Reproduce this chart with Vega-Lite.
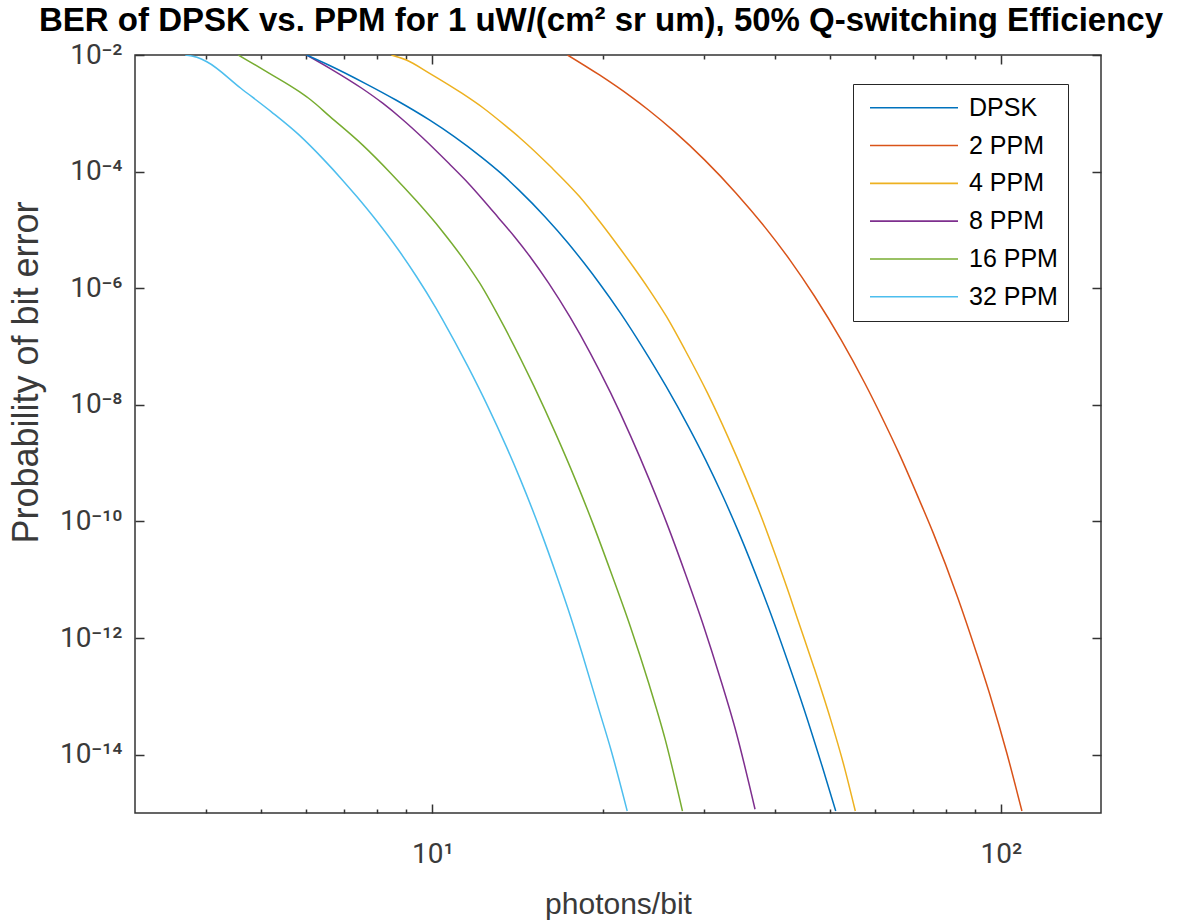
{
  "$schema": "https://vega.github.io/schema/vega-lite/v6.json",
  "width": 966,
  "height": 758,
  "autosize": {"type": "none"},
  "padding": {"left": 135, "top": 55, "right": 98, "bottom": 109},
  "background": "white",
  "config": {
    "view": {"stroke": "#333333", "strokeWidth": 1.5},
    "font": "Liberation Sans"
  },
  "title": {
    "text": "BER of DPSK vs. PPM for 1 uW/(cm² sr um), 50% Q-switching Efficiency",
    "font": "Liberation Sans",
    "fontSize": 33,
    "fontWeight": "bold",
    "color": "#000000",
    "anchor": "middle",
    "dx": -17,
    "offset": 3
  },
  "data": {
    "values": [
      {"s": "32 PPM", "x": 3.677, "y": 1e-2},
      {"s": "32 PPM", "x": 3.855, "y": 9.14e-3},
      {"s": "32 PPM", "x": 4.013, "y": 7.67e-3},
      {"s": "32 PPM", "x": 4.605, "y": 2.69e-3},
      {"s": "32 PPM", "x": 5.206, "y": 1.07e-3},
      {"s": "32 PPM", "x": 5.829, "y": 4.26e-4},
      {"s": "32 PPM", "x": 6.449, "y": 1.59e-4},
      {"s": "32 PPM", "x": 6.947, "y": 7.21e-5},
      {"s": "32 PPM", "x": 7.365, "y": 3.73e-5},
      {"s": "32 PPM", "x": 7.955, "y": 1.49e-5},
      {"s": "32 PPM", "x": 8.715, "y": 4.56e-6},
      {"s": "32 PPM", "x": 9.378, "y": 1.59e-6},
      {"s": "32 PPM", "x": 10.15, "y": 4.57e-7},
      {"s": "32 PPM", "x": 10.43, "y": 2.88e-7},
      {"s": "32 PPM", "x": 11.55, "y": 4.56e-8},
      {"s": "32 PPM", "x": 12.52, "y": 9.42e-9},
      {"s": "32 PPM", "x": 13.49, "y": 1.94e-9},
      {"s": "32 PPM", "x": 14.29, "y": 5.22e-10},
      {"s": "32 PPM", "x": 15.55, "y": 6.37e-11},
      {"s": "32 PPM", "x": 16.56, "y": 1.15e-11},
      {"s": "32 PPM", "x": 17.34, "y": 3.09e-12},
      {"s": "32 PPM", "x": 18.33, "y": 5.60e-13},
      {"s": "32 PPM", "x": 19.63, "y": 5.98e-14},
      {"s": "32 PPM", "x": 20.61, "y": 1.23e-14},
      {"s": "32 PPM", "x": 22.02, "y": 1.08e-15},

      {"s": "16 PPM", "x": 4.559, "y": 1e-2},
      {"s": "16 PPM", "x": 4.720, "y": 8.20e-3},
      {"s": "16 PPM", "x": 5.170, "y": 4.85e-3},
      {"s": "16 PPM", "x": 5.836, "y": 2.35e-3},
      {"s": "16 PPM", "x": 6.116, "y": 1.69e-3},
      {"s": "16 PPM", "x": 6.609, "y": 8.77e-4},
      {"s": "16 PPM", "x": 7.536, "y": 2.87e-4},
      {"s": "16 PPM", "x": 8.450, "y": 9.40e-5},
      {"s": "16 PPM", "x": 9.401, "y": 3.06e-5},
      {"s": "16 PPM", "x": 10.37, "y": 1.00e-5},
      {"s": "16 PPM", "x": 11.37, "y": 3.07e-6},
      {"s": "16 PPM", "x": 12.12, "y": 1.22e-6},
      {"s": "16 PPM", "x": 13.37, "y": 2.21e-7},
      {"s": "16 PPM", "x": 15.10, "y": 2.07e-8},
      {"s": "16 PPM", "x": 16.46, "y": 3.30e-9},
      {"s": "16 PPM", "x": 17.85, "y": 5.22e-10},
      {"s": "16 PPM", "x": 19.14, "y": 9.46e-11},
      {"s": "16 PPM", "x": 20.63, "y": 1.32e-11},
      {"s": "16 PPM", "x": 22.29, "y": 1.60e-12},
      {"s": "16 PPM", "x": 24.01, "y": 1.71e-13},
      {"s": "16 PPM", "x": 25.68, "y": 1.83e-14},
      {"s": "16 PPM", "x": 27.54, "y": 1.08e-15},

      {"s": "8 PPM", "x": 6.011, "y": 1e-2},
      {"s": "8 PPM", "x": 6.603, "y": 5.92e-3},
      {"s": "8 PPM", "x": 7.516, "y": 2.69e-3},
      {"s": "8 PPM", "x": 8.180, "y": 1.49e-3},
      {"s": "8 PPM", "x": 8.884, "y": 7.69e-4},
      {"s": "8 PPM", "x": 9.636, "y": 3.74e-4},
      {"s": "8 PPM", "x": 10.69, "y": 1.39e-4},
      {"s": "8 PPM", "x": 11.57, "y": 6.34e-5},
      {"s": "8 PPM", "x": 12.29, "y": 3.27e-5},
      {"s": "8 PPM", "x": 13.09, "y": 1.59e-5},
      {"s": "8 PPM", "x": 13.94, "y": 7.71e-6},
      {"s": "8 PPM", "x": 14.85, "y": 3.50e-6},
      {"s": "8 PPM", "x": 16.02, "y": 1.22e-6},
      {"s": "8 PPM", "x": 17.44, "y": 3.28e-7},
      {"s": "8 PPM", "x": 18.96, "y": 7.74e-8},
      {"s": "8 PPM", "x": 20.59, "y": 1.60e-8},
      {"s": "8 PPM", "x": 22.34, "y": 2.88e-9},
      {"s": "8 PPM", "x": 24.08, "y": 5.22e-10},
      {"s": "8 PPM", "x": 25.83, "y": 9.46e-11},
      {"s": "8 PPM", "x": 27.97, "y": 1.15e-11},
      {"s": "8 PPM", "x": 30.01, "y": 1.60e-12},
      {"s": "8 PPM", "x": 32.01, "y": 2.22e-13},
      {"s": "8 PPM", "x": 34.25, "y": 2.38e-14},
      {"s": "8 PPM", "x": 36.95, "y": 1.16e-15},

      {"s": "DPSK", "x": 6.011, "y": 1e-2},
      {"s": "DPSK", "x": 6.570, "y": 6.75e-3},
      {"s": "DPSK", "x": 7.616, "y": 3.27e-3},
      {"s": "DPSK", "x": 8.630, "y": 1.69e-3},
      {"s": "DPSK", "x": 9.883, "y": 7.69e-4},
      {"s": "DPSK", "x": 10.93, "y": 3.98e-4},
      {"s": "DPSK", "x": 12.17, "y": 1.81e-4},
      {"s": "DPSK", "x": 13.20, "y": 9.40e-5},
      {"s": "DPSK", "x": 14.19, "y": 4.86e-5},
      {"s": "DPSK", "x": 15.78, "y": 1.69e-5},
      {"s": "DPSK", "x": 17.34, "y": 5.93e-6},
      {"s": "DPSK", "x": 18.49, "y": 2.70e-6},
      {"s": "DPSK", "x": 19.67, "y": 1.22e-6},
      {"s": "DPSK", "x": 21.43, "y": 3.75e-7},
      {"s": "DPSK", "x": 23.39, "y": 1.00e-7},
      {"s": "DPSK", "x": 25.78, "y": 2.07e-8},
      {"s": "DPSK", "x": 28.20, "y": 4.28e-9},
      {"s": "DPSK", "x": 30.23, "y": 1.15e-9},
      {"s": "DPSK", "x": 32.44, "y": 2.70e-10},
      {"s": "DPSK", "x": 34.62, "y": 6.37e-11},
      {"s": "DPSK", "x": 38.14, "y": 5.97e-12},
      {"s": "DPSK", "x": 39.13, "y": 3.09e-12},
      {"s": "DPSK", "x": 42.07, "y": 4.30e-13},
      {"s": "DPSK", "x": 45.08, "y": 5.98e-14},
      {"s": "DPSK", "x": 48.48, "y": 6.38e-15},
      {"s": "DPSK", "x": 51.23, "y": 1.08e-15},

      {"s": "4 PPM", "x": 8.474, "y": 1e-2},
      {"s": "4 PPM", "x": 9.003, "y": 8.20e-3},
      {"s": "4 PPM", "x": 9.892, "y": 4.85e-3},
      {"s": "4 PPM", "x": 11.27, "y": 2.21e-3},
      {"s": "4 PPM", "x": 12.31, "y": 1.22e-3},
      {"s": "4 PPM", "x": 13.51, "y": 5.90e-4},
      {"s": "4 PPM", "x": 14.28, "y": 3.74e-4},
      {"s": "4 PPM", "x": 16.14, "y": 1.22e-4},
      {"s": "4 PPM", "x": 18.15, "y": 3.73e-5},
      {"s": "4 PPM", "x": 19.79, "y": 1.31e-5},
      {"s": "4 PPM", "x": 21.26, "y": 5.19e-6},
      {"s": "4 PPM", "x": 22.55, "y": 2.36e-6},
      {"s": "4 PPM", "x": 24.08, "y": 9.40e-7},
      {"s": "4 PPM", "x": 25.81, "y": 3.28e-7},
      {"s": "4 PPM", "x": 27.82, "y": 8.81e-8},
      {"s": "4 PPM", "x": 30.47, "y": 1.60e-8},
      {"s": "4 PPM", "x": 33.08, "y": 2.88e-9},
      {"s": "4 PPM", "x": 35.67, "y": 5.22e-10},
      {"s": "4 PPM", "x": 38.06, "y": 1.08e-10},
      {"s": "4 PPM", "x": 40.39, "y": 2.22e-11},
      {"s": "4 PPM", "x": 42.56, "y": 5.22e-12},
      {"s": "4 PPM", "x": 43.92, "y": 2.08e-12},
      {"s": "4 PPM", "x": 46.83, "y": 3.30e-13},
      {"s": "4 PPM", "x": 50.18, "y": 4.03e-14},
      {"s": "4 PPM", "x": 52.99, "y": 6.38e-15},
      {"s": "4 PPM", "x": 55.46, "y": 1.08e-15},

      {"s": "2 PPM", "x": 17.29, "y": 1e-2},
      {"s": "2 PPM", "x": 19.68, "y": 4.54e-3},
      {"s": "2 PPM", "x": 22.35, "y": 1.93e-3},
      {"s": "2 PPM", "x": 24.00, "y": 1.14e-3},
      {"s": "2 PPM", "x": 26.66, "y": 4.85e-4},
      {"s": "2 PPM", "x": 30.12, "y": 1.59e-4},
      {"s": "2 PPM", "x": 34.22, "y": 4.27e-5},
      {"s": "2 PPM", "x": 38.39, "y": 1.14e-5},
      {"s": "2 PPM", "x": 42.54, "y": 3.07e-6},
      {"s": "2 PPM", "x": 47.05, "y": 7.21e-7},
      {"s": "2 PPM", "x": 52.34, "y": 1.31e-7},
      {"s": "2 PPM", "x": 57.61, "y": 2.37e-8},
      {"s": "2 PPM", "x": 62.46, "y": 4.89e-9},
      {"s": "2 PPM", "x": 66.14, "y": 1.50e-9},
      {"s": "2 PPM", "x": 71.83, "y": 2.37e-10},
      {"s": "2 PPM", "x": 76.02, "y": 6.37e-11},
      {"s": "2 PPM", "x": 83.95, "y": 4.97e-12},
      {"s": "2 PPM", "x": 90.57, "y": 5.60e-13},
      {"s": "2 PPM", "x": 96.21, "y": 8.87e-14},
      {"s": "2 PPM", "x": 102.4, "y": 1.08e-14},
      {"s": "2 PPM", "x": 108.9, "y": 1.08e-15}
    ]
  },
  "layer": [
    {
      "mark": {"type": "line", "strokeWidth": 1.5, "clip": true, "interpolate": "monotone"},
      "encoding": {
        "x": {
          "field": "x", "type": "quantitative",
          "scale": {"type": "log", "domain": [3, 150], "nice": false},
          "axis": {
            "orient": "bottom", "values": [10, 100],
            "labelExpr": "datum.value < 50 ? '10¹' : '10²'",
            "domain": false, "grid": false,
            "tickSize": -9, "tickColor": "#333333", "tickWidth": 1.5,
            "labelFont": "Roboto", "labelFontSize": 28, "labelColor": "#3a3a3a",
            "labelPadding": 36, "labelBaseline": "top", "labelFlush": false,
            "title": "photons/bit", "titleFont": "Liberation Sans", "titleFontSize": 30,
            "titleFontWeight": "normal", "titleColor": "#3a3a3a",
            "titleY": 100, "titleBaseline": "alphabetic"
          }
        },
        "y": {
          "field": "y", "type": "quantitative",
          "scale": {"type": "log", "domain": [1e-15, 1e-2], "nice": false},
          "axis": {
            "orient": "left",
            "values": [1e-14, 1e-12, 1e-10, 1e-8, 1e-6, 1e-4, 1e-2],
            "labelExpr": "datum.value > 3e-3 ? '10⁻²' : datum.value > 3e-5 ? '10⁻⁴' : datum.value > 3e-7 ? '10⁻⁶' : datum.value > 3e-9 ? '10⁻⁸' : datum.value > 3e-11 ? '10⁻¹⁰' : datum.value > 3e-13 ? '10⁻¹²' : '10⁻¹⁴'",
            "domain": false, "grid": false,
            "tickSize": -9, "tickColor": "#333333", "tickWidth": 1.5,
            "labelFont": "Roboto", "labelFontSize": 28, "labelColor": "#3a3a3a",
            "labelPadding": 22, "labelFlush": false,
            "title": "Probability of bit error", "titleFont": "Liberation Sans", "titleFontSize": 36,
            "titleFontWeight": "normal", "titleColor": "#3a3a3a",
            "titleX": -109, "titleY": 317, "titleBaseline": "middle", "titleAngle": -90
          }
        },
        "color": {
          "field": "s", "type": "nominal",
          "scale": {
            "domain": ["DPSK", "2 PPM", "4 PPM", "8 PPM", "16 PPM", "32 PPM"],
            "range": ["#0072BD", "#D95319", "#EDB120", "#7E2F8E", "#77AC30", "#4DBEEE"]
          },
          "legend": {
            "orient": "none", "legendX": 718, "legendY": 29,
            "title": null,
            "symbolType": "stroke", "symbolSize": 7744, "symbolStrokeWidth": 1.6,
            "clipHeight": 27.5, "rowPadding": 9.8,
            "labelFont": "Liberation Sans", "labelFontSize": 25, "labelColor": "#000000",
            "labelOffset": 10, "symbolOffset": 6,
            "strokeColor": "#262626", "fillColor": "#ffffff",
            "padding": 10
          }
        }
      }
    },
    {
      "mark": {"type": "point", "opacity": 0},
      "encoding": {
        "x": {
          "field": "x", "type": "quantitative",
          "axis": {
            "orient": "bottom", "values": [4, 5, 6, 7, 8, 9, 20, 30, 40, 50, 60, 70, 80, 90],
            "labels": false, "domain": false, "grid": false, "title": null,
            "tickSize": -4, "tickColor": "#333333", "tickWidth": 1.5
          }
        },
        "y": {
          "field": "y", "type": "quantitative",
          "axis": {
            "orient": "right", "values": [1e-14, 1e-12, 1e-10, 1e-8, 1e-6, 1e-4, 1e-2],
            "labels": false, "domain": false, "grid": false, "title": null,
            "tickSize": -9, "tickColor": "#333333", "tickWidth": 1.5
          }
        }
      }
    },
    {
      "mark": {"type": "point", "opacity": 0},
      "encoding": {
        "x": {
          "field": "x", "type": "quantitative",
          "axis": {
            "orient": "top", "values": [10, 100],
            "labels": false, "domain": false, "grid": false, "title": null,
            "tickSize": -9, "tickColor": "#333333", "tickWidth": 1.5
          }
        },
        "y": {"field": "y", "type": "quantitative", "axis": null}
      }
    },
    {
      "mark": {"type": "point", "opacity": 0},
      "encoding": {
        "x": {
          "field": "x", "type": "quantitative",
          "axis": {
            "orient": "top", "values": [4, 5, 6, 7, 8, 9, 20, 30, 40, 50, 60, 70, 80, 90],
            "labels": false, "domain": false, "grid": false, "title": null,
            "tickSize": -4, "tickColor": "#333333", "tickWidth": 1.5
          }
        },
        "y": {"field": "y", "type": "quantitative", "axis": null}
      }
    }
  ],
  "resolve": {"axis": {"x": "independent", "y": "independent"}}
}
